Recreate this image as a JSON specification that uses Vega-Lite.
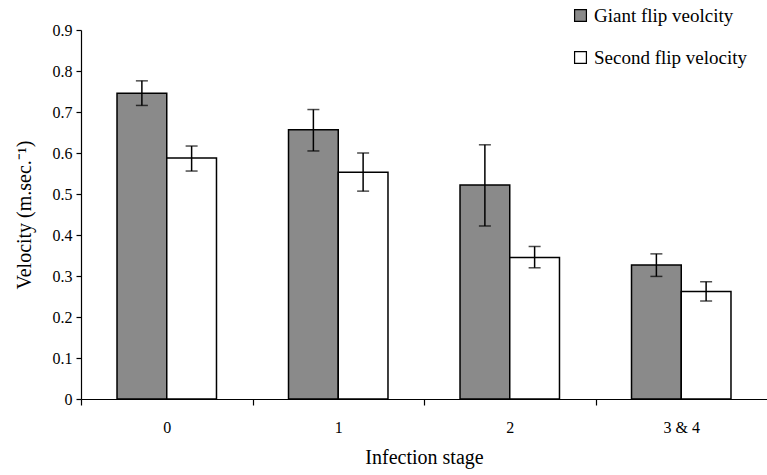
{
  "$schema": "https://vega.github.io/schema/vega-lite/v6.json",
  "autosize": {"type": "none"},
  "padding": {"left": 81, "top": 30, "right": 0, "bottom": 76},
  "width": 686,
  "height": 369,
  "background": "white",
  "config": {
    "view": {"stroke": null},
    "font": "Liberation Serif",
    "axis": {"grid": false, "domainColor": "black", "tickColor": "black", "labelColor": "black", "titleColor": "black", "labelFont": "Liberation Serif", "titleFont": "Liberation Serif", "titleFontWeight": "normal", "domainWidth": 1.2, "tickWidth": 1.2, "labelFontSize": 16, "titleFontSize": 20}
  },
  "data": {
    "values": [
      {"stage": "0", "series": "Giant flip veolcity", "value": 0.746, "lo": 0.716, "hi": 0.776},
      {"stage": "0", "series": "Second flip velocity", "value": 0.588, "lo": 0.556, "hi": 0.617},
      {"stage": "1", "series": "Giant flip veolcity", "value": 0.657, "lo": 0.605, "hi": 0.706},
      {"stage": "1", "series": "Second flip velocity", "value": 0.553, "lo": 0.507, "hi": 0.600},
      {"stage": "2", "series": "Giant flip veolcity", "value": 0.522, "lo": 0.422, "hi": 0.620},
      {"stage": "2", "series": "Second flip velocity", "value": 0.345, "lo": 0.320, "hi": 0.372},
      {"stage": "3 & 4", "series": "Giant flip veolcity", "value": 0.327, "lo": 0.299, "hi": 0.354},
      {"stage": "3 & 4", "series": "Second flip velocity", "value": 0.262, "lo": 0.239, "hi": 0.286}
    ]
  },
  "encoding": {
    "x": {
      "field": "stage", "type": "nominal", "sort": null,
      "scale": {"paddingInner": 0.42, "paddingOuter": 0.21},
      "axis": {"title": "Infection stage", "titleFontSize": 20, "titlePadding": 12, "labelFontSize": 16, "labelAngle": 0, "bandPosition": 0, "tickOffset": -36, "labelOffset": 36, "tickSize": 6, "labelPadding": 14, "labelOverlap": false}
    },
    "xOffset": {"field": "series", "type": "nominal", "sort": ["Giant flip veolcity", "Second flip velocity"], "scale": {"paddingInner": 0, "paddingOuter": 0}}
  },
  "layer": [
    {
      "mark": {"type": "bar", "stroke": "black", "strokeWidth": 1.5},
      "encoding": {
        "y": {
          "field": "value", "type": "quantitative",
          "scale": {"domain": [0, 0.9], "nice": false},
          "axis": {"title": "Velocity (m.sec.⁻¹)", "titleFontSize": 20, "titlePadding": 18, "labelFontSize": 16, "values": [0, 0.1, 0.2, 0.3, 0.4, 0.5, 0.6, 0.7, 0.8, 0.9], "format": "~g", "labelOverlap": false, "tickSize": 5, "labelPadding": 4}
        },
        "fill": {
          "field": "series", "type": "nominal",
          "scale": {"domain": ["Giant flip veolcity", "Second flip velocity"], "range": ["#8a8a8a", "#ffffff"]},
          "legend": {
            "title": null, "orient": "none", "legendX": 490, "legendY": -24,
            "symbolType": "square", "symbolSize": 140, "symbolStrokeColor": "black", "symbolStrokeWidth": 1.2,
            "labelFontSize": 19, "labelFont": "Liberation Serif", "labelColor": "black", "labelLimit": 300,
            "rowPadding": 22, "labelOffset": 4
          }
        }
      }
    },
    {
      "mark": {"type": "rule", "color": "black", "strokeWidth": 1.5},
      "encoding": {
        "y": {"field": "lo", "type": "quantitative"},
        "y2": {"field": "hi"}
      }
    },
    {
      "mark": {"type": "tick", "color": "black", "thickness": 1.5, "size": 12},
      "encoding": {"y": {"field": "lo", "type": "quantitative"}}
    },
    {
      "mark": {"type": "tick", "color": "black", "thickness": 1.5, "size": 12},
      "encoding": {"y": {"field": "hi", "type": "quantitative"}}
    }
  ]
}
